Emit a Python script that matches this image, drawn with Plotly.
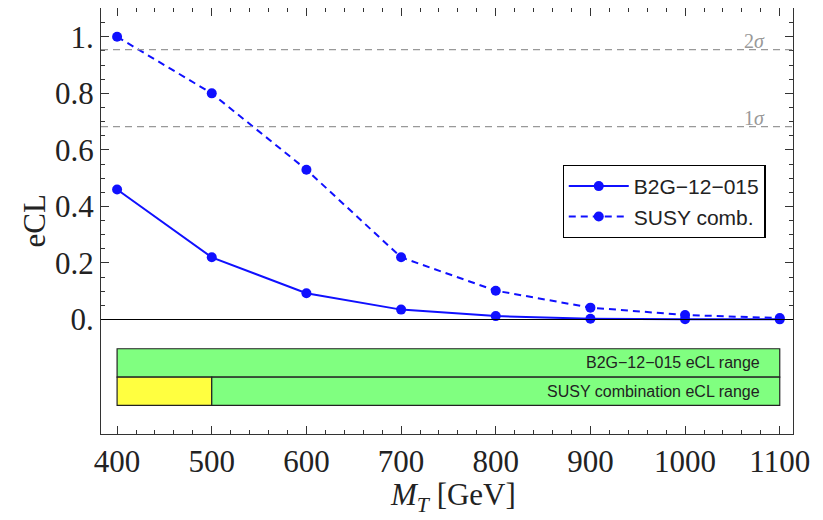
import plotly.graph_objects as go

# ---- data ----
mass = [400, 500, 600, 700, 800, 900, 1000, 1100]
b2g = [0.46, 0.22, 0.093, 0.035, 0.012, 0.003, 0.001, 0.0005]
susy = [1.0, 0.80, 0.53, 0.22, 0.102, 0.042, 0.016, 0.005]
sigma_levels = [0.6827, 0.9545]
sigma_labels = ["1<i>σ</i>", "2<i>σ</i>"]

# range bands: (x0, x1, colour) segments for each row
band_rows = ["B2G−12−015 eCL range", "SUSY combination eCL range"]
band_y = [(-0.204, -0.1035), (-0.304, -0.204)]
band_segments = [
    [(400, 1100, "#80FF80")],
    [(400, 500, "#FFFF40"), (500, 1100, "#80FF80")],
]

x_ticks = [400, 500, 600, 700, 800, 900, 1000, 1100]
x_ticklabels = ["400", "500", "600", "700", "800", "900", "1000", "1100"]
y_ticks = [0, 0.2, 0.4, 0.6, 0.8, 1.0]
y_ticklabels = ["0.", "0.2", "0.4", "0.6", "0.8", "1."]
y_minor = [0.05, 0.1, 0.15, 0.25, 0.3, 0.35, 0.45, 0.5, 0.55, 0.65, 0.7, 0.75,
           0.85, 0.9, 0.95, 1.05]

blue = "#1010FF"
ink = "#222222"
tickc = "#333333"
fig = go.Figure()
fig.add_trace(go.Scatter(x=mass, y=b2g, mode="lines+markers", name="B2G−12−015",
                         line=dict(color=blue, width=2),
                         marker=dict(color=blue, size=10)))
fig.add_trace(go.Scatter(x=mass, y=susy, mode="lines+markers", name="SUSY comb.",
                         line=dict(color=blue, width=2, dash="7px,5px"),
                         marker=dict(color=blue, size=10)))

shapes = []
for lvl in sigma_levels:
    shapes.append(dict(type="line", xref="paper", x0=0, x1=1, yref="y", y0=lvl, y1=lvl,
                       line=dict(color="#999999", width=1.2, dash="7px,5px")))
shapes.append(dict(type="line", xref="paper", x0=0, x1=1, yref="y", y0=0, y1=0,
                   line=dict(color="black", width=1.2)))
for (y0, y1), segs in zip(band_y, band_segments):
    for (x0, x1, col) in segs:
        shapes.append(dict(type="rect", xref="x", yref="y", x0=x0, x1=x1, y0=y0, y1=y1,
                           fillcolor=col, line=dict(color=ink, width=1.2), layer="below"))
fig.update_layout(shapes=shapes)

annotations = []
for lvl, lab in zip(sigma_levels, sigma_labels):
    annotations.append(dict(x=1087, y=lvl, xref="x", yref="y", text=lab, showarrow=False,
                            xanchor="right", yanchor="bottom", yshift=-4,
                            font=dict(family="Liberation Serif", size=20, color="#999999")))
for (y0, y1), lab in zip(band_y, band_rows):
    annotations.append(dict(x=1081, y=(y0 + y1) / 2, xref="x", yref="y", text=lab,
                            showarrow=False, xanchor="right", yanchor="middle",
                            font=dict(family="Liberation Sans", size=16, color=ink)))
annotations.append(dict(x=-0.0954, y=0.501, xref="paper", yref="paper", text="eCL",
                        textangle=-90, showarrow=False, xanchor="center", yanchor="middle",
                        font=dict(family="Liberation Serif", size=31, color=ink)))
annotations.append(dict(x=0.509, y=-0.148, xref="paper", yref="paper",
                        text="<i>M<sub>T</sub></i> [GeV]", showarrow=False,
                        xanchor="center", yanchor="middle",
                        font=dict(family="Liberation Serif", size=31, color=ink)))
fig.update_layout(annotations=annotations)

axis_common = dict(showline=True, linecolor="#333333", linewidth=1.3, mirror="allticks",
                   ticks="inside", tickcolor=tickc, ticklen=8, tickwidth=1.3,
                   showgrid=False, zeroline=False, automargin=False,
                   tickfont=dict(family="Liberation Serif", size=31, color=ink))
fig.update_xaxes(range=[383, 1114], tickmode="array", tickvals=x_ticks, ticktext=x_ticklabels,
                 minor=dict(ticks="inside", ticklen=4, tickcolor=tickc, tickwidth=1.2,
                            dtick=20, tick0=400),
                 **axis_common)
fig.update_yaxes(range=[-0.405, 1.102], tickmode="array", tickvals=y_ticks, ticktext=y_ticklabels,
                 minor=dict(ticks="inside", ticklen=4, tickcolor=tickc, tickwidth=1.2,
                            tickmode="array", tickvals=y_minor),
                 **axis_common)

# the page body adds an 8px offset; margins compensate for it
fig.update_layout(
    width=823, height=520,
    margin=dict(l=93, r=38, t=0, b=94),
    plot_bgcolor="white", paper_bgcolor="white",
    legend=dict(x=0.667, y=0.632, xanchor="left", yanchor="top",
                bordercolor="black", borderwidth=1.2, bgcolor="white",
                font=dict(family="Liberation Sans", size=21, color=ink),
                tracegroupgap=0, itemwidth=60),
    showlegend=True,
)
fig.write_html("out.html")
